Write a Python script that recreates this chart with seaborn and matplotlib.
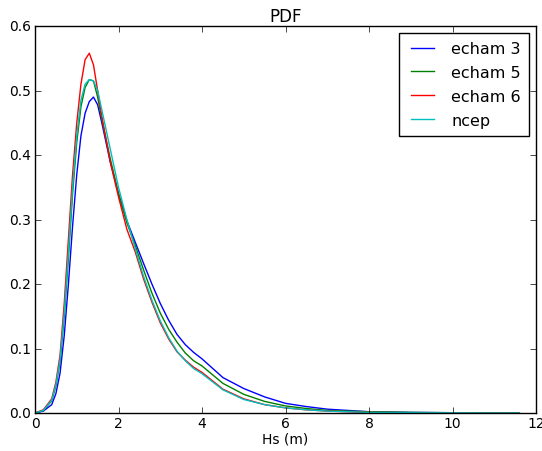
import numpy as np
import pandas as pd
import matplotlib
matplotlib.use("Agg")
import matplotlib.pyplot as plt
import seaborn as sns

x = [0, 0.2, 0.4, 0.5, 0.6, 0.7, 0.8, 0.9, 1.0, 1.1, 1.2, 1.3, 1.4, 1.5, 1.6,
     1.8, 2.0, 2.2, 2.4, 2.6, 2.8, 3.0, 3.2, 3.4, 3.6, 3.8, 4.0, 4.5, 5.0,
     5.5, 6.0, 6.5, 7.0, 7.5, 8.0, 9.0, 10.0, 11.0, 11.6]

echam3 = [0, 0.003, 0.013, 0.03, 0.062, 0.12, 0.2, 0.29, 0.37, 0.43, 0.465,
          0.483, 0.490, 0.478, 0.45, 0.39, 0.34, 0.298, 0.265, 0.232, 0.2,
          0.17, 0.144, 0.122, 0.106, 0.094, 0.084, 0.055, 0.038, 0.025,
          0.015, 0.01, 0.006, 0.004, 0.002, 0.001, 0.0005, 0.0002, 0.0001]
echam5 = [0, 0.004, 0.019, 0.042, 0.08, 0.15, 0.24, 0.34, 0.42, 0.475, 0.505,
          0.517, 0.515, 0.49, 0.455, 0.395, 0.34, 0.295, 0.26, 0.222, 0.186,
          0.155, 0.13, 0.11, 0.093, 0.081, 0.073, 0.046, 0.029, 0.018, 0.011,
          0.007, 0.004, 0.003, 0.002, 0.001, 0.0005, 0.0002, 0.0001]
echam6 = [0, 0.005, 0.022, 0.048, 0.09, 0.17, 0.27, 0.37, 0.45, 0.51, 0.548,
          0.558, 0.54, 0.50, 0.46, 0.39, 0.335, 0.285, 0.25, 0.208, 0.172,
          0.14, 0.115, 0.095, 0.082, 0.071, 0.063, 0.037, 0.022, 0.013, 0.008,
          0.005, 0.003, 0.002, 0.001, 0.0005, 0.0003, 0.0001, 0.0001]
ncep = [0, 0.004, 0.02, 0.044, 0.083, 0.155, 0.25, 0.35, 0.43, 0.485, 0.51,
        0.517, 0.515, 0.50, 0.47, 0.41, 0.35, 0.30, 0.255, 0.212, 0.175,
        0.143, 0.117, 0.096, 0.081, 0.069, 0.061, 0.036, 0.021, 0.013, 0.008,
        0.005, 0.003, 0.002, 0.001, 0.0005, 0.0003, 0.0001, 0.0001]

names = ["echam 3", "echam 5", "echam 6", "ncep"]
series = [echam3, echam5, echam6, ncep]
colors = ["#0000ff", "#008000", "#ff0000", "#00bfbf"]

df = pd.concat([pd.DataFrame({"Hs": x, "pdf": s, "model": n})
                for n, s in zip(names, series)], ignore_index=True)

plt.style.use("classic")
plt.rcParams["font.family"] = ["DejaVu Sans"]

fig = plt.figure(figsize=(5.42, 4.52), dpi=100, facecolor="white")
ax = fig.add_axes([0.0646, 0.084, 0.9244, 0.856])
sns.lineplot(data=df, x="Hs", y="pdf", hue="model", palette=colors,
             hue_order=names, ax=ax, linewidth=1.0, legend=True)

ax.set_xlim(0, 12)
ax.set_ylim(0, 0.6)
ax.set_xticks([0, 2, 4, 6, 8, 10, 12])
ax.set_yticks([0.0, 0.1, 0.2, 0.3, 0.4, 0.5, 0.6])
ax.set_yticklabels(["0.0", "0.1", "0.2", "0.3", "0.4", "0.5", "0.6"])
ax.tick_params(labelsize=10)
ax.tick_params(axis="x", pad=2)
ax.tick_params(axis="y", pad=3)
ax.set_xlabel("Hs (m)", fontsize=10, labelpad=1)
ax.set_ylabel("")
ax.set_title("PDF", fontsize=12, pad=4)

leg = ax.legend(loc="upper right", fontsize=11.5, frameon=True, fancybox=False,
                shadow=False, handlelength=2.0, borderpad=0.5,
                labelspacing=0.55, borderaxespad=0.45)
leg.get_frame().set_edgecolor("black")
leg.get_frame().set_linewidth(1.0)

fig.savefig("out.png", dpi=100, facecolor="white")
